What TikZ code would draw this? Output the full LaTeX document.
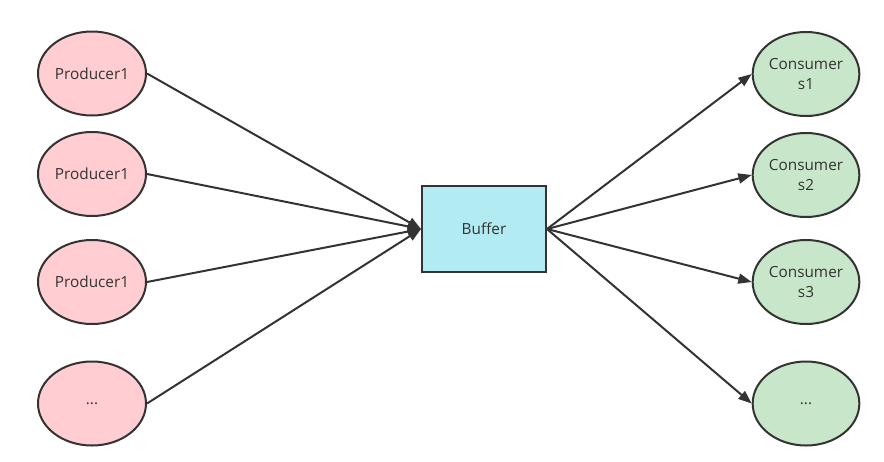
\documentclass[tikz,border=0pt]{standalone}
\usepackage{fontspec}
\setmainfont{Open Sans}
\usepackage{xcolor}
\usetikzlibrary{shapes,arrows,arrows.meta,positioning,calc}

\definecolor{prodfill}{HTML}{FFCDD2}
\definecolor{consfill}{HTML}{C8E6C9}
\definecolor{buffill}{HTML}{B2EBF2}
\definecolor{edge}{HTML}{333333}

\begin{document}
\begin{tikzpicture}[x=0.75pt, y=-0.75pt,
    prod/.style={ellipse, draw=edge, fill=prodfill, line width=1.5pt, minimum width=81pt, minimum height=63pt, inner sep=0pt, text=edge, font=\fontsize{11.5}{15}\selectfont, align=center},
    cons/.style={ellipse, draw=edge, fill=consfill, line width=1.5pt, minimum width=80pt, minimum height=63pt, inner sep=0pt, text=edge, font=\fontsize{11.5}{15}\selectfont, align=center},
    buf/.style={rectangle, draw=edge, fill=buffill, line width=1.5pt, minimum width=93pt, minimum height=64pt, text=edge, font=\fontsize{11.5}{15}\selectfont},
    line/.style={draw=edge, -{Triangle[length=10pt,width=7.5pt]}, line width=1.5pt}]
    \useasboundingbox (0,0) rectangle (884,461);

    \node [prod] (p1) at (92,73.5) {Producer1};
    \node [prod] (p2) at (92,174) {Producer1};
    \node [prod] (p3) at (92,282) {Producer1};
    \node [prod] (p4) at (92,403.5) {...};

    \node [buf] (buf) at (484,229) {Buffer};

    \node [cons] (c1) at (806,74) {Consumer\\s1};
    \node [cons] (c2) at (806,175) {Consumer\\s2};
    \node [cons] (c3) at (806,282) {Consumer\\s3};
    \node [cons] (c4) at (806,403.5) {...};

    \path [line] (p1.east) -- (buf.west);
    \path [line] (p2.east) -- (buf.west);
    \path [line] (p3.east) -- (buf.west);
    \path [line] (p4.east) -- (buf.west);

    \path [line] (buf.east) -- (c1.west);
    \path [line] (buf.east) -- (c2.west);
    \path [line] (buf.east) -- (c3.west);
    \path [line] (buf.east) -- (c4.west);
\end{tikzpicture}
\end{document}
